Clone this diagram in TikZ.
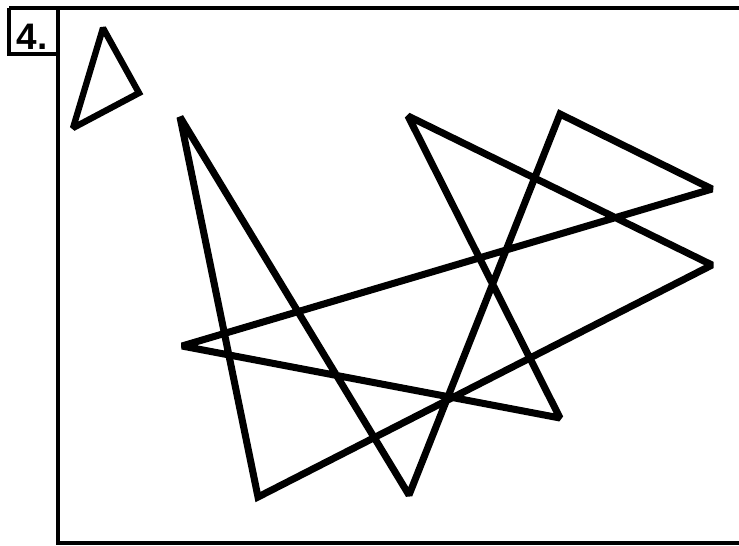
\documentclass[tikz,border=0pt]{standalone}
\usepackage{fontspec}
\setmainfont{Liberation Sans}
\begin{document}
\begin{tikzpicture}[x=0.02cm,y=-0.02cm,line join=miter,miter limit=2]
  \useasboundingbox (0,0) rectangle (739,545);
  % frame and number box
  \draw[line width=1.8pt] (9,8) -- (739,8);
  \draw[line width=1.8pt] (9,8) -- (9,54) -- (58,54);
  \draw[line width=2.6pt] (58,8) -- (58,545);
  \draw[line width=1.8pt] (58,543) -- (739,543);
  \node[font=\fontsize{21}{21}\selectfont\bfseries,inner sep=0pt] (num) at (32,37) {4.};
  % small triangle
  \draw[line width=3.6pt] (103,28) -- (139,93) -- (73,128) -- cycle;
  % big figure
  \draw[line width=4pt] (180,117) -- (258,497) -- (712,265) -- (408,116)
    -- (560,418) -- (182,346) -- (712,189) -- (560,114) -- (409,495) -- cycle;
\end{tikzpicture}
\end{document}
